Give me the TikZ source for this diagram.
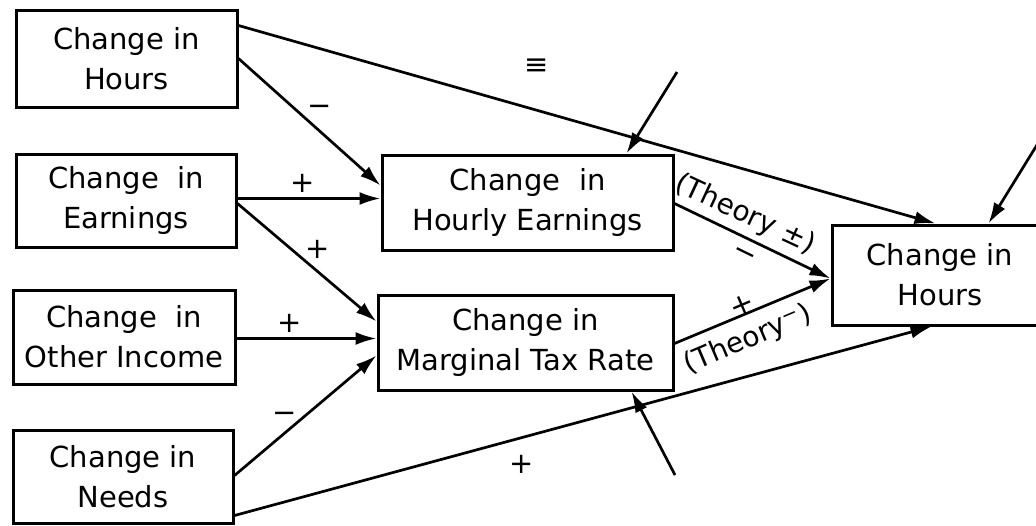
\documentclass[tikz,border=0pt]{standalone}
\usepackage{fontspec}
\setmainfont{DejaVu Sans}
\usetikzlibrary{arrows.meta,calc}
\begin{document}
\begin{tikzpicture}[x=1pt,y=-1pt,
  box/.style={draw, line width=3pt, rectangle, align=center, inner sep=0pt, font=\fontsize{29}{40}\selectfont},
  conn/.style={line width=2.7pt, -{Latex[length=21pt,width=13pt]}},
  sign/.style={font=\fontsize{29}{30}\selectfont, inner sep=1pt},
  theory/.style={font=\fontsize{28}{30}\selectfont, inner sep=1pt}]
\useasboundingbox (0,0) rectangle (1036,525);
% boxes
\node[box, minimum width=221pt, minimum height=97pt] (b1) at (126.5,58.5) {Change in\\Hours};
\node[box, minimum width=220pt, minimum height=93pt] (b2) at (126,200.5) {Change\ \ in\\Earnings};
\node[box, minimum width=222pt, minimum height=94pt] (b3) at (124,337) {Change\ \ in\\Other Income};
\node[box, minimum width=220pt, minimum height=93pt] (b4) at (123,476.5) {Change in\\Needs};
\node[box, minimum width=291pt, minimum height=95pt] (b5) at (527.5,202.5) {Change\ \ in\\Hourly Earnings};
\node[box, minimum width=295pt, minimum height=95pt] (b6) at (525.5,342.5) {Change in\\Marginal Tax Rate};
\node[box, minimum width=216pt, minimum height=100pt] (b7) at (940,275) {Change in\\Hours};
% free ends
\coordinate (e1) at (677,72);
\coordinate (e2) at (1040,140);
\coordinate (e3) at (675,475);
% connectors
\draw[conn] ($(b1.north east)+(0,17)$) -- ($(b7.north west)+(105,0)$);
\draw[conn] ($(b1.north east)+(0,50)$) -- ($(b5.north west)+(0,32)$);
\draw[conn] ($(b2.north east)+(0,46)$) -- ($(b5.north west)+(0,45)$);
\draw[conn] ($(b2.north east)+(0,51)$) -- ($(b6.north west)+(0,28)$);
\draw[conn] ($(b3.north east)+(0,50)$) -- ($(b6.north west)+(0,45)$);
\draw[conn] ($(b4.north east)+(0,47)$) -- ($(b6.north west)+(0,62)$);
\draw[conn] ($(b4.north east)+(0,87)$) -- ($(b7.south west)+(101,0)$);
\draw[conn] ($(b5.north east)+(0,50)$) -- ($(b7.north west)+(0,55)$);
\draw[conn] ($(b6.north east)+(0,50)$) -- ($(b7.north west)+(0,55)$);
\draw[conn] (e1) -- ($(b5.north west)+(246,0)$);
\draw[conn] (e2) -- ($(b7.north west)+(158,0)$);
\draw[conn] (e3) -- ($(b6.south west)+(255,0)$);
% path labels
\node[theory, rotate=-25] (t1) at (745,215) {(Theory ±)};
\node[sign, rotate=-26] (m1) at (744,256) {−};
\node[sign, rotate=23] (p1) at (742,305) {+};
\node[theory, rotate=23] (t2) at (748,340) {(Theory\textsuperscript{−})};
% signs
\node[sign] (s0) at (537,67) {≡};
\node[sign] (s1) at (320,110) {−};
\node[sign] (s2) at (303,183) {+};
\node[sign] (s3) at (318,249) {+};
\node[sign] (s4) at (290,323) {+};
\node[sign] (s5) at (285,417) {−};
\node[sign] (s6) at (522,464) {+};
\end{tikzpicture}
\end{document}
